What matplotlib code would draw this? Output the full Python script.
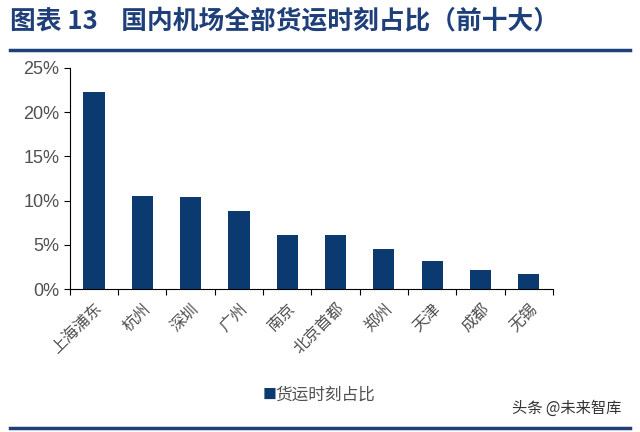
import matplotlib.pyplot as plt
from matplotlib.lines import Line2D
from matplotlib.ticker import FuncFormatter

plt.rcParams['font.family'] = ['Noto Sans CJK SC', 'DejaVu Sans']

airports = ["上海浦东", "杭州", "深圳", "广州", "南京", "北京首都", "郑州", "天津", "成都", "无锡"]
share = [22.3, 10.5, 10.4, 8.8, 6.1, 6.1, 4.5, 3.2, 2.1, 1.7]

navy = "#0b3a70"

fig = plt.figure(figsize=(6.4, 4.32), dpi=100)
ax = fig.add_axes([0.109, 0.331, 0.755, 0.512])

ax.bar(range(len(airports)), share, width=0.44, color=navy, zorder=2)
ax.set_xlim(-0.5, len(airports) - 0.5)
ax.set_ylim(0, 25)
ax.set_yticks([0, 5, 10, 15, 20, 25])
ax.yaxis.set_major_formatter(FuncFormatter(lambda v, p: f"{v:.0f}%"))
for lab in ax.get_yticklabels():
    lab.set_family(["Liberation Sans", "DejaVu Sans"])
ax.set_xticks([i - 0.5 for i in range(len(airports) + 1)], minor=False)
ax.set_xticklabels([])
ax.set_xticks(range(len(airports)), minor=True)
ax.set_xticklabels(airports, minor=True, rotation=45, ha="right", rotation_mode="anchor",
                   fontsize=11.5, color="#505050")
ax.tick_params(axis="x", which="minor", length=0, pad=8)
ax.tick_params(axis="x", which="major", length=4, direction="out", color="black")
ax.tick_params(axis="y", labelsize=13, labelcolor="#505050", length=4, color="black")
for s in ["top", "right"]:
    ax.spines[s].set_visible(False)
ax.spines["left"].set_color("black")
ax.spines["bottom"].set_color("black")

# title and rules
fig.text(0.016, 0.952, "图表 13    国内机场全部货运时刻占比（前十大）", fontsize=18.5,
         fontweight="bold", color="#1f3f7a", va="center")
fig.add_artist(Line2D([0.016, 0.985], [0.885, 0.885], color="#1f3f7a", lw=2.5))
fig.add_artist(Line2D([0.016, 0.985], [0.01, 0.01], color="#1f3f7a", lw=2.5))

# legend
fig.text(0.41, 0.085, "■", fontsize=10, color=navy, va="center")
fig.text(0.43, 0.085, "货运时刻占比", fontsize=12, color="#505050", va="center")
fig.text(0.80, 0.055, "头条 @未来智库", fontsize=11, color="#333333", va="center")

fig.savefig("out.png", dpi=100)
